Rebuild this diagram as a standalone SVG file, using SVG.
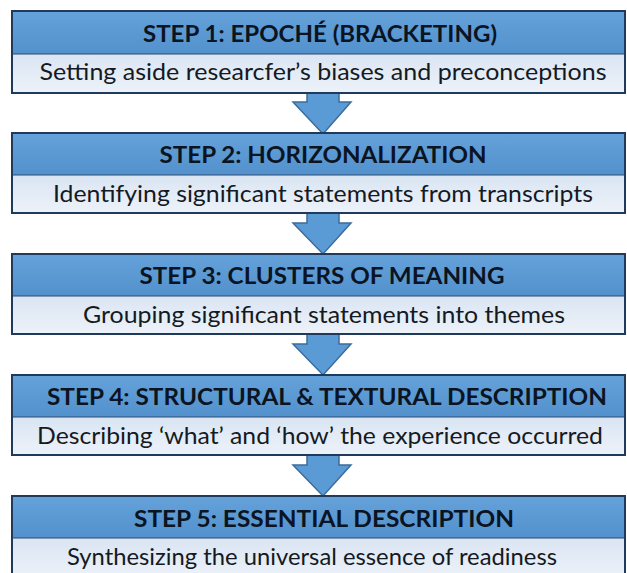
<svg xmlns="http://www.w3.org/2000/svg" width="627" height="573" viewBox="0 0 627 573">
<defs>
<linearGradient id="hd" x1="0" y1="0" x2="0" y2="1"><stop offset="0" stop-color="#65a2da"/><stop offset="1" stop-color="#5391cd"/></linearGradient>
<linearGradient id="sb" x1="0" y1="0" x2="0" y2="1"><stop offset="0" stop-color="#dae5f3"/><stop offset="1" stop-color="#edf2f9"/></linearGradient>
</defs>
<style>
.hd{fill:url(#hd);}
.sb{fill:url(#sb);}
.frame{fill:none;stroke:#203a5c;stroke-width:2;}
.div{stroke:#2a4a70;stroke-width:1.2;}
.ht{font-family:Lato,"Open Sans",sans-serif;font-weight:bold;font-size:22.5px;fill:#0b1422;text-anchor:middle;}
.st{font-family:Lato,"Open Sans",sans-serif;font-size:24px;fill:#151a22;text-anchor:middle;}
.arrow{fill:#5b9bd5;stroke:#3b6c9c;stroke-width:1.5;stroke-linejoin:miter;}
</style>
<rect width="627" height="573" fill="#ffffff"/>
<g id="connectors">
<polygon class="arrow" points="307,92 339,92 339,102 351,102 323,134 293,102 307,102"/>
<polygon class="arrow" points="307,213 339,213 339,223 351,223 323,254 293,223 307,223"/>
<polygon class="arrow" points="307,334 339,334 339,344 351,344 323,375 293,344 307,344"/>
<polygon class="arrow" points="307,455 339,455 339,465 351,465 323,496 293,465 307,465"/>
</g>
<g id="step1">
<rect class="hd" x="12" y="11" width="613" height="43"/>
<rect class="sb" x="12" y="54" width="613" height="39"/>
<line class="div" x1="12" y1="54" x2="625" y2="54"/>
<rect class="frame" x="12" y="11" width="613" height="82"/>
<text class="ht" x="320" y="42" textLength="354" lengthAdjust="spacingAndGlyphs">STEP 1: EPOCHÉ (BRACKETING)</text>
<text class="st" x="323" y="80" textLength="567" lengthAdjust="spacingAndGlyphs">Setting aside researcfer’s biases and preconceptions</text>
</g>
<g id="step2">
<rect class="hd" x="12" y="133" width="613" height="42"/>
<rect class="sb" x="12" y="175" width="613" height="38"/>
<line class="div" x1="12" y1="175" x2="625" y2="175"/>
<rect class="frame" x="12" y="133" width="613" height="80"/>
<text class="ht" x="323" y="163" textLength="327" lengthAdjust="spacingAndGlyphs">STEP 2: HORIZONALIZATION</text>
<text class="st" x="323" y="202" textLength="540" lengthAdjust="spacingAndGlyphs">Identifying significant statements from transcripts</text>
</g>
<g id="step3">
<rect class="hd" x="12" y="254" width="613" height="42"/>
<rect class="sb" x="12" y="296" width="613" height="38"/>
<line class="div" x1="12" y1="296" x2="625" y2="296"/>
<rect class="frame" x="12" y="254" width="613" height="80"/>
<text class="ht" x="322" y="284" textLength="365" lengthAdjust="spacingAndGlyphs">STEP 3: CLUSTERS OF MEANING</text>
<text class="st" x="324" y="323" textLength="482" lengthAdjust="spacingAndGlyphs">Grouping significant statements into themes</text>
</g>
<g id="step4">
<rect class="hd" x="12" y="375" width="613" height="42"/>
<rect class="sb" x="12" y="417" width="613" height="38"/>
<line class="div" x1="12" y1="417" x2="625" y2="417"/>
<rect class="frame" x="12" y="375" width="613" height="80"/>
<text class="ht" x="327" y="405" textLength="560" lengthAdjust="spacingAndGlyphs">STEP 4: STRUCTURAL &amp; TEXTURAL DESCRIPTION</text>
<text class="st" x="320" y="444" textLength="566" lengthAdjust="spacingAndGlyphs">Describing ‘what’ and ‘how’ the experience occurred</text>
</g>
<g id="step5">
<rect class="hd" x="12" y="496" width="613" height="42"/>
<rect class="sb" x="12" y="538" width="613" height="40"/>
<line class="div" x1="12" y1="538" x2="625" y2="538"/>
<rect class="frame" x="12" y="496" width="613" height="82"/>
<text class="ht" x="324" y="527" textLength="380" lengthAdjust="spacingAndGlyphs">STEP 5: ESSENTIAL DESCRIPTION</text>
<text class="st" x="312" y="565" textLength="490" lengthAdjust="spacingAndGlyphs">Synthesizing the universal essence of readiness</text>
</g>
</svg>
